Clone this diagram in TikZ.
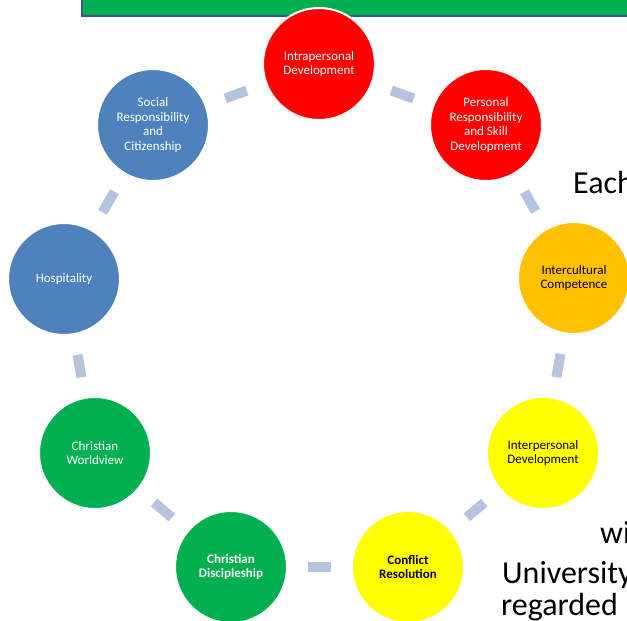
\documentclass[tikz,border=0pt]{standalone}
\usepackage{fontspec}
\setmainfont{Carlito}
\definecolor{hdrgreen}{HTML}{00B050}
\definecolor{hdrline}{HTML}{3A5592}
\definecolor{cred}{HTML}{FF0000}
\definecolor{corange}{HTML}{FFC000}
\definecolor{cyellow}{HTML}{FFFF00}
\definecolor{cblue}{HTML}{4F81BD}
\definecolor{cgreen}{HTML}{00B050}
\definecolor{linkc}{HTML}{B4C3DE}
\begin{document}
\begin{tikzpicture}[x=1pt,y=-1pt,
  bubble/.style={circle,minimum size=112pt,inner sep=0pt,draw=white,line width=2pt,
    align=center,font=\fontsize{13}{14.6}\selectfont},
  boldbubble/.style={bubble,font=\bfseries\fontsize{13}{14.6}\selectfont},
  link/.style={draw=linkc,line width=10pt,shorten <=20pt,shorten >=20pt},
  bigtext/.style={anchor=base west,inner sep=0pt,font=\fontsize{32}{38}\selectfont}]
\useasboundingbox (0,0) rectangle (627,621);
\clip (0,0) rectangle (627,621);
% header bar
\path[fill=hdrgreen,draw=hdrline,line width=1.6pt] (82,-20) rectangle (640,16);
\node[anchor=base west,inner sep=0pt,text=white,font=\bfseries\fontsize{36}{40}\selectfont] (hy) at (509,-7) {y};
% bubbles
\node[bubble,fill=cred,text=white] (n1) at (319,64) {Intrapersonal\\Development};
\node[bubble,fill=cred,text=white] (n2) at (486,125) {Personal\\Responsibility\\and Skill\\Development};
\node[bubble,fill=corange,text=black] (n3) at (574,278) {Intercultural\\Competence};
\node[bubble,fill=cyellow,text=black] (n4) at (543,453) {Interpersonal\\Development};
\node[boldbubble,fill=cyellow,text=black] (n5) at (408,567) {Conflict\\Resolution};
\node[boldbubble,fill=cgreen,text=white] (n6) at (231,567) {Christian\\Discipleship};
\node[bubble,fill=cgreen,text=white] (n7) at (95,453) {Christian\\Worldview};
\node[bubble,fill=cblue,text=white] (n8) at (64,279) {Hospitality};
\node[bubble,fill=cblue,text=white] (n9) at (153,125) {Social\\Responsibility\\and\\Citizenship};
% connectors
\draw[link] (n1) -- (n2);
\draw[link] (n2) -- (n3);
\draw[link] (n3) -- (n4);
\draw[link] (n4) -- (n5);
\draw[link] (n5) -- (n6);
\draw[link] (n6) -- (n7);
\draw[link] (n7) -- (n8);
\draw[link] (n8) -- (n9);
\draw[link] (n9) -- (n1);
% body text fragments
\node[bigtext] (t1) at (573,193) {Each};
\node[bigtext] (t2) at (600,543) {wi};
\node[bigtext] (t3) at (502,583) {University};
\node[bigtext] (t4) at (501,615) {regarded};
\end{tikzpicture}
\end{document}
